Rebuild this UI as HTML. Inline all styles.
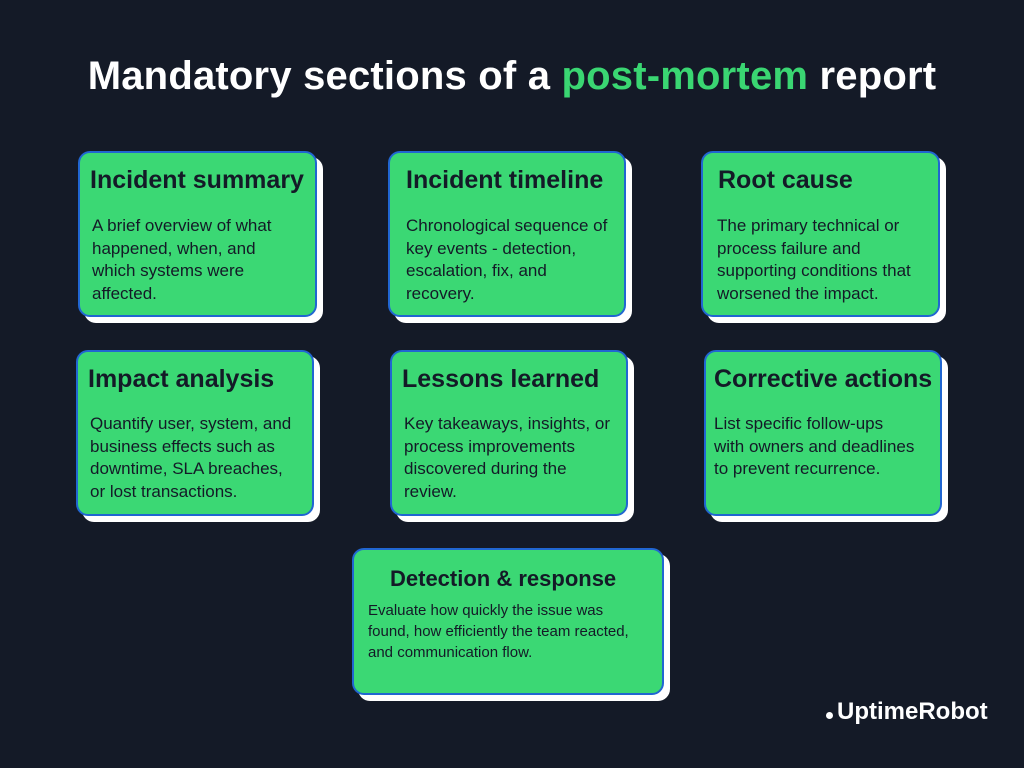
<!DOCTYPE html>
<html><head><meta charset="utf-8"><style>
body{margin:0;width:1024px;height:768px;background:#141a27;position:relative;overflow:hidden;font-family:"Liberation Sans",sans-serif;}
.t{position:absolute;left:0;width:1024px;top:54px;text-align:center;color:#fff;font-weight:bold;font-size:40px;letter-spacing:0.2px}
.t span{color:#3ad672}
.c{position:absolute;background:#3bd874;border:2px solid #2166d1;border-radius:12px;box-shadow:6px 6px 0 #fff;box-sizing:border-box;color:#141a27}
.c h2{margin:0;position:absolute;left:10px;top:13px;font-size:25px;font-weight:bold;white-space:nowrap}
.c p{margin:0;position:absolute;left:12px;top:62px;font-size:17px;line-height:22.7px;white-space:nowrap}
.logo{position:absolute;left:826px;top:698px;color:#fff;font-weight:bold;font-size:24px}
.logo i{display:inline-block;width:7px;height:7px;border-radius:50%;background:#fff;margin-right:4px}
</style></head><body>
<div class="t">Mandatory sections of a <span>post-mortem</span> report</div>
<div class="c" style="left:78px;top:151px;width:239px;height:166px"><h2>Incident summary</h2><p>A brief overview of what<br>happened, when, and<br>which systems were<br>affected.</p></div>
<div class="c" style="left:388px;top:151px;width:238px;height:166px"><h2 style="left:16px">Incident timeline</h2><p style="left:16px">Chronological sequence of<br>key events - detection,<br>escalation, fix, and<br>recovery.</p></div>
<div class="c" style="left:701px;top:151px;width:239px;height:166px"><h2 style="left:15px">Root cause</h2><p style="left:14px">The primary technical or<br>process failure and<br>supporting conditions that<br>worsened the impact.</p></div>
<div class="c" style="left:76px;top:350px;width:238px;height:166px"><h2>Impact analysis</h2><p style="top:61px">Quantify user, system, and<br>business effects such as<br>downtime, SLA breaches,<br>or lost transactions.</p></div>
<div class="c" style="left:390px;top:350px;width:238px;height:166px"><h2>Lessons learned</h2><p style="top:61px">Key takeaways, insights, or<br>process improvements<br>discovered during the<br>review.</p></div>
<div class="c" style="left:704px;top:350px;width:238px;height:166px"><h2 style="left:8px">Corrective actions</h2><p style="left:8px;top:61px">List specific follow-ups<br>with owners and deadlines<br>to prevent recurrence.</p></div>
<div class="c" style="left:352px;top:548px;width:312px;height:147px"><h2 style="left:36px;top:16px;font-size:22px">Detection &amp; response</h2><p style="left:14px;top:50px;font-size:15px;line-height:21px">Evaluate how quickly the issue was<br>found, how efficiently the team reacted,<br>and communication flow.</p></div>
<div class="logo"><i></i>UptimeRobot</div>
</body></html>
